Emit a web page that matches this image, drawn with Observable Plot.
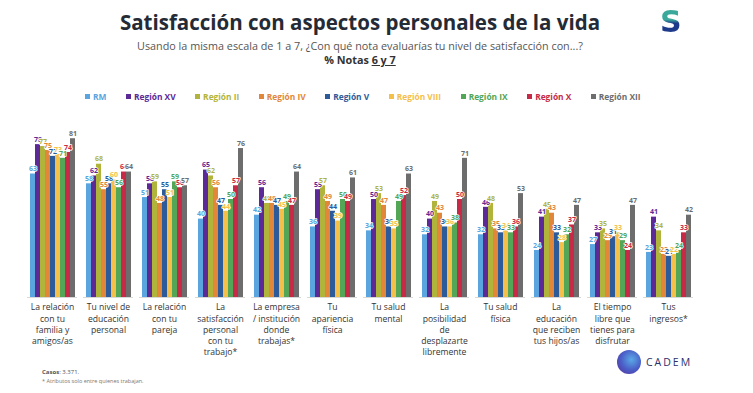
<!DOCTYPE html>
<html>
<head>
<meta charset="utf-8">
<script src="https://cdn.jsdelivr.net/npm/d3@7"></script>
<script src="https://cdn.jsdelivr.net/npm/@observablehq/plot@0.6"></script>
<style>
  body { margin: 0; background: #fff; font-family: "Open Sans", Lato, sans-serif; }
  #wrap { position: relative; width: 753px; height: 393px; overflow: hidden; }
  #chart { position: absolute; left: 0; top: 0; }
  .abs { position: absolute; white-space: nowrap; }
  #title { left: 60px; width: 600px; top: 8px; text-align: center; font-size: 20.5px; font-weight: 700; color: #252b36; }
  #sub { left: 60px; width: 600px; top: 38px; text-align: center; font-size: 10.8px; color: #555; }
  #notas { left: 60px; width: 600px; top: 52px; text-align: center; font-size: 10.8px; font-weight: 700; color: #333; }
  #notas u { text-decoration: underline; }
  #legend { left: 85px; top: 91px; font-size: 8.4px; font-weight: 700; display: flex; gap: 19.5px; }
  #legend span.sw { display: inline-block; width: 5px; height: 5px; margin-right: 3px; vertical-align: 1px; }
  #logoS { left: 660px; top: 4px; font-size: 30px; font-weight: 800; font-family: "DejaVu Sans", sans-serif;
    background: linear-gradient(180deg, #3aa89a 0%, #3aa89a 45%, #1d3b8a 55%, #1d3b8a 100%);
    -webkit-background-clip: text; background-clip: text; color: transparent; }
  #foot1 { left: 42px; top: 368px; font-size: 6px; color: #555; }
  #foot2 { left: 42px; top: 377px; font-size: 5.5px; color: #777; }
  #cadem { left: 646px; top: 355px; font-size: 10.5px; letter-spacing: 2px; color: #2b2f6b; }
  #cademCircle { left: 617px; top: 350px; width: 24px; height: 24px; border-radius: 50%; background: radial-gradient(circle at 60% 40%, #5aa9e6 0%, #4a5fc8 50%, #5b2a96 100%); }
</style>
</head>
<body>
<div id="wrap">
  <div id="chart"></div>
  <div class="abs" id="title">Satisfacción con aspectos personales de la vida</div>
  <div class="abs" id="sub">Usando la misma escala de 1 a 7, ¿Con qué nota evaluarías tu nivel de satisfacción con...?</div>
  <div class="abs" id="notas">% Notas <u>6 y 7</u></div>
  <div class="abs" id="legend"></div>
  <div class="abs" id="logoS">S</div>
  <div class="abs" id="foot1"><b>Casos</b>: 3.371.</div>
  <div class="abs" id="foot2">* Atributos solo entre quienes trabajan.</div>
  <div class="abs" id="cademCircle"></div>
  <div class="abs" id="cadem">CADEM</div>
</div>
<script>
const categories = [
  "La relación\ncon tu\nfamilia y\namigos/as",
  "Tu nivel de\neducación\npersonal",
  "La relación\ncon tu\npareja",
  "La\nsatisfacción\npersonal\ncon tu\ntrabajo*",
  "La empresa\n/ institución\ndonde\ntrabajas*",
  "Tu\napariencia\nfísica",
  "Tu salud\nmental",
  "La\nposibilidad\nde\ndesplazarte\nlibremente",
  "Tu salud\nfísica",
  "La\neducación\nque reciben\ntus hijos/as",
  "El tiempo\nlibre que\ntienes para\ndisfrutar",
  "Tus\ningresos*"
];
const seriesNames = ["RM","Región XV","Región II","Región IV","Región V","Región VIII","Región IX","Región X","Región XII"];
const seriesColors = ["#5aa5e0","#5b2a96","#b1b43a","#e2873a","#2d5b9a","#f5c04a","#53a655","#c62a47","#6d6d6d"];

const rm   = [63,58,51,40,42,36,34,32,32,24,27,23];
const xv   = [78,62,58,65,56,55,50,40,46,41,33,41];
const ii   = [77,68,59,62,48,57,53,49,48,45,35,34];
const iv   = [75,55,48,56,48,49,47,43,35,43,29,22];
const v    = [72,58,55,47,47,44,36,36,33,33,31,21];
const viii = [73,60,51,44,45,39,35,36,34,28,33,22];
const ix   = [71,56,59,50,49,50,49,38,33,32,29,24];
const x10  = [74,64,56,57,47,49,52,50,36,37,24,33];
const xii  = [81,64,57,76,64,61,63,71,53,47,47,42];

const seriesValues = [rm, xv, ii, iv, v, viii, ix, x10, xii];
const data = [];
categories.forEach((c, ci) => {
  seriesNames.forEach((s, si) => {
    data.push({category: c, series: s, value: seriesValues[si][ci]});
  });
});

// legend
const legend = document.getElementById("legend");
seriesNames.forEach((s, i) => {
  const el = document.createElement("div");
  el.style.color = seriesColors[i];
  el.innerHTML = `<span class="sw" style="background:${seriesColors[i]}"></span>${s}`;
  legend.appendChild(el);
});

const chart = Plot.plot({
  width: 753,
  height: 393,
  marginTop: 101,
  marginBottom: 96,
  marginLeft: 25,
  marginRight: 57,
  style: {fontFamily: "'Open Sans', Lato, sans-serif", background: "transparent"},
  fx: {domain: categories, padding: 0.1, label: null},
  x: {domain: seriesNames, padding: 0, axis: null},
  y: {domain: [0, 100], axis: null},
  color: {domain: seriesNames, range: seriesColors},
  marks: [
    Plot.barY(data, {fx: "category", x: "series", y: "value", fill: "series"}),
    Plot.ruleY([0], {stroke: "#d8d8d8", strokeWidth: 1}),
    Plot.text(data, {fx: "category", x: "series", y: "value", text: d => String(d.value),
      fill: "series", dy: -5, fontSize: 7, fontWeight: 700, stroke: "white", strokeWidth: 1.5, paintOrder: "stroke"}),
    Plot.axisFx({anchor: "bottom", tickSize: 0, tickPadding: 5, fontSize: 8.6, lineHeight: 1.3, label: null, color: "#333"})
  ]
});
document.getElementById("chart").appendChild(chart);
</script>
</body>
</html>
